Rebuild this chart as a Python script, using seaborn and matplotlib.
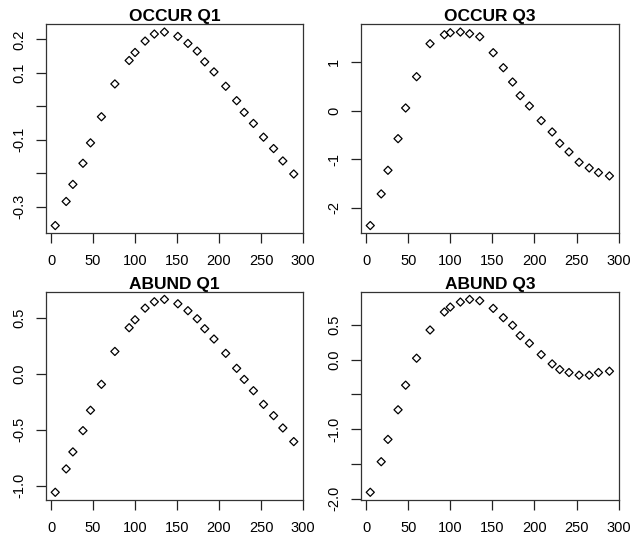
import numpy as np
import pandas as pd
import matplotlib
matplotlib.use("Agg")
import matplotlib.pyplot as plt
import seaborn as sns

# Sampling positions shared by all four series
day = [5, 18, 26, 38, 47, 60, 76, 93, 100, 112, 123, 135, 151,
       163, 174, 183, 194, 208, 221, 230, 241, 253, 265, 276, 289]

occur_q1 = [-0.356, -0.284, -0.233, -0.170, -0.109, -0.031, 0.067, 0.137, 0.161,
            0.195, 0.216, 0.222, 0.209, 0.188, 0.165, 0.133, 0.103, 0.060,
            0.017, -0.018, -0.051, -0.092, -0.126, -0.163, -0.202]
occur_q3 = [-2.363, -1.711, -1.224, -0.572, 0.060, 0.705, 1.384, 1.570, 1.611,
            1.625, 1.590, 1.528, 1.199, 0.890, 0.595, 0.314, 0.101, -0.201,
            -0.434, -0.668, -0.846, -1.059, -1.176, -1.272, -1.340]
abund_q1 = [-1.060, -0.851, -0.699, -0.509, -0.327, -0.095, 0.199, 0.411, 0.482,
            0.586, 0.643, 0.664, 0.625, 0.563, 0.491, 0.402, 0.310, 0.182,
            0.048, -0.051, -0.152, -0.274, -0.375, -0.485, -0.607]
abund_q3 = [-1.907, -1.467, -1.146, -0.720, -0.366, 0.022, 0.428, 0.687, 0.758,
            0.830, 0.868, 0.849, 0.739, 0.605, 0.495, 0.347, 0.237, 0.074,
            -0.060, -0.141, -0.184, -0.222, -0.222, -0.184, -0.165]

titles = ["OCCUR Q1", "OCCUR Q3", "ABUND Q1", "ABUND Q3"]
series = [occur_q1, occur_q3, abund_q1, abund_q3]
x_ticks = [0, 50, 100, 150, 200, 250, 300]
y_ticks = [
    [-0.3, -0.2, -0.1, 0.0, 0.1, 0.2],
    [-2, -1, 0, 1],
    [-1.0, -0.5, 0.0, 0.5],
    [-2.0, -1.5, -1.0, -0.5, 0.0, 0.5],
]
y_labels = [
    ["-0.3", "", "-0.1", "", "0.1", "0.2"],
    ["-2", "-1", "0", "1"],
    ["-1.0", "-0.5", "0.0", "0.5"],
    ["-2.0", "", "-1.0", "", "0.0", "0.5"],
]

sns.set_theme(style="ticks")
plt.rcParams["font.family"] = ["Liberation Sans", "DejaVu Sans"]

W, H = 631, 542
fig = plt.figure(figsize=(W / 100, H / 100), dpi=100)

# panel boxes in pixel coordinates: left, top, right, bottom
boxes = [
    (45.7, 24.3, 303.3, 233.3),
    (360.7, 24.3, 619.0, 233.3),
    (45.7, 291.7, 303.3, 500.0),
    (360.7, 291.7, 619.0, 500.0),
]


def r_range(v):
    lo, hi = min(v), max(v)
    d = (hi - lo) * 0.04
    return lo - d, hi + d


for i in range(4):
    l, t, r, b = boxes[i]
    ax = fig.add_axes([l / W, 1 - b / H, (r - l) / W, (b - t) / H])
    df = pd.DataFrame({"day": day, "value": series[i]})
    sns.scatterplot(data=df, x="day", y="value", ax=ax, marker="D",
                    s=17, facecolor="none", edgecolor="black", linewidth=0.9)
    ax.set_xlim(*r_range(day))
    ax.set_ylim(*r_range(series[i]))
    ax.set_xticks(x_ticks)
    ax.set_xticklabels([str(v) for v in x_ticks])
    ax.set_yticks(y_ticks[i])
    ax.set_yticklabels(y_labels[i], rotation=90, va="center")
    ax.tick_params(axis="both", direction="out", length=7, width=0.9,
                   color="#222222", labelsize=10.5, labelcolor="black",
                   bottom=True, left=True, top=False, right=False)
    ax.tick_params(axis="x", pad=8)
    ax.tick_params(axis="y", pad=7)
    ax.set_xlabel("")
    ax.set_ylabel("")
    for s in ax.spines.values():
        s.set_visible(True)
        s.set_color("#333333")
        s.set_linewidth(0.9)
    ax.set_title(titles[i], fontsize=12.5, fontweight="bold", pad=1,
                 color="black")

fig.savefig("out.png", dpi=100, facecolor="white")
